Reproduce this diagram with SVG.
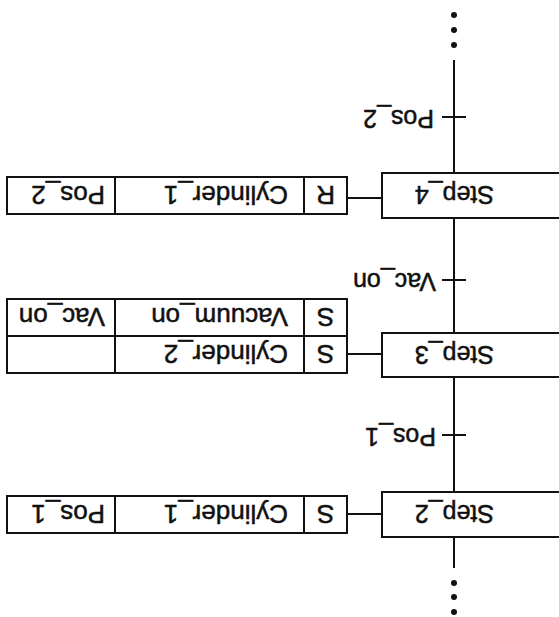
<svg xmlns="http://www.w3.org/2000/svg" width="559" height="617" viewBox="0 0 559 617">
<style>
.s{fill:none;stroke:#111;stroke-width:2}
.t{font-family:"Liberation Sans",Arial,sans-serif;font-size:25px;fill:#111;stroke:#111;stroke-width:0.5}
.a{font-size:26px}
.c{text-anchor:middle}
</style>
<rect width="559" height="617" fill="#fff"/>
<g transform="rotate(180 279.5 308.5)">
<g id="connectors">
<path class="s" d="M105 49V80M105 125V240M105 284V399M105 444V557"/>
<path class="s" d="M93 182H117M93 337H117M93 500H117"/>
<path class="s" d="M177 103H212M177 263H212M177 419H212"/>
<circle cx="105" cy="34" r="3" fill="#111"/>
<circle cx="105" cy="20" r="3" fill="#111"/>
<circle cx="105" cy="5" r="3" fill="#111"/>
<circle cx="105" cy="572" r="3" fill="#111"/>
<circle cx="105" cy="587" r="3" fill="#111"/>
<circle cx="105" cy="602" r="3" fill="#111"/>
<text class="t" x="123" y="189">Pos_1</text>
<text class="t" x="123" y="344">Vac_on</text>
<text class="t" x="125" y="507">Pos_2</text>
</g>
<g id="step2">
<rect class="s" x="-10" y="80" width="187" height="45"/>
<text class="t" x="65" y="112">Step_2</text>
</g>
<g id="step3">
<rect class="s" x="-10" y="240" width="187" height="44"/>
<text class="t" x="65" y="271">Step_3</text>
</g>
<g id="step4">
<rect class="s" x="-10" y="399" width="187" height="45"/>
<text class="t" x="65" y="431">Step_4</text>
</g>
<g id="action2">
<rect class="s" x="212" y="84" width="340" height="37"/>
<path class="s" d="M255 84V121M444 84V121"/>
<text class="t a c" x="233.5" y="112">S</text>
<text class="t a" x="271" y="112">Cylinder_1</text>
<text class="t a" x="454" y="112">Pos_1</text>
</g>
<g id="action3">
<rect class="s" x="212" y="244" width="340" height="74"/>
<path class="s" d="M255 244V318M444 244V318M212 281H552"/>
<text class="t a c" x="233.5" y="272">S</text>
<text class="t a" x="271" y="272">Cylinder_2</text>
<text class="t a c" x="233.5" y="309">S</text>
<text class="t a" x="271" y="309">Vacuum_on</text>
<text class="t a" x="454" y="309">Vac_on</text>
</g>
<g id="action4">
<rect class="s" x="212" y="403" width="340" height="37"/>
<path class="s" d="M255 403V440M444 403V440"/>
<text class="t a c" x="233.5" y="431">R</text>
<text class="t a" x="271" y="431">Cylinder_1</text>
<text class="t a" x="454" y="431">Pos_2</text>
</g>
</g>
</svg>
